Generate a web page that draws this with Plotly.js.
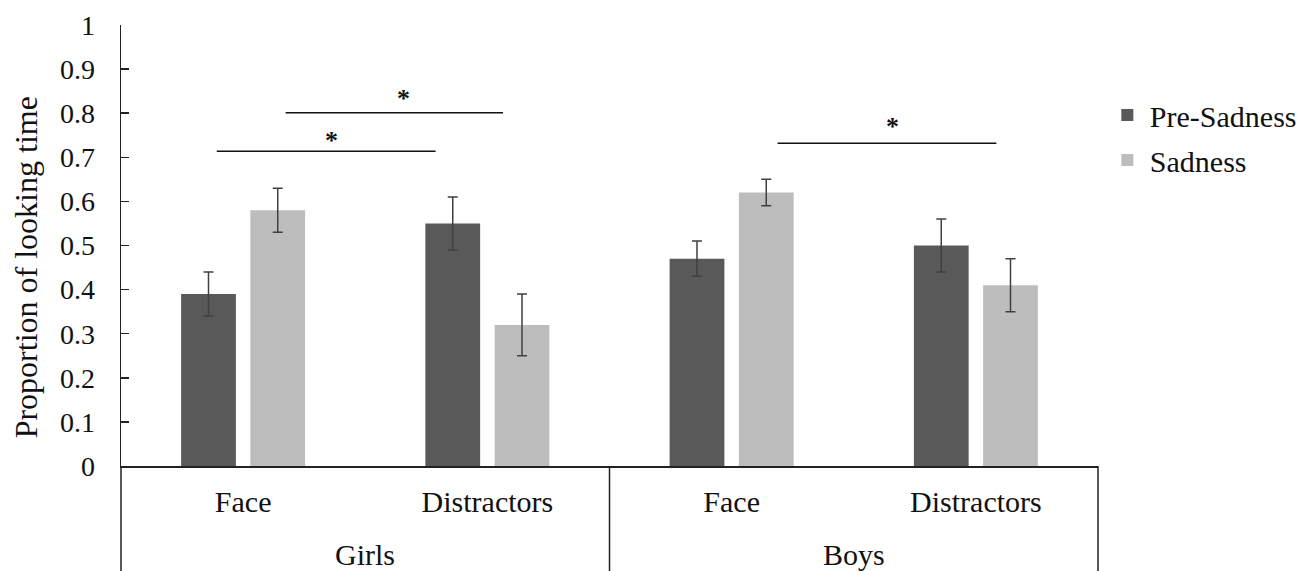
<!DOCTYPE html>
<html>
<head>
<meta charset="utf-8">
<script src="https://cdn.plot.ly/plotly-3.0.1.min.js"></script>
<style>html,body{margin:0;padding:0;background:#fff;}#chart{width:1314px;height:571px;}</style>
</head>
<body>
<div id="chart"></div>
<script>
// ---- data ----
var groups = ["Girls", "Girls", "Boys", "Boys"];
var conditions = ["Face", "Distractors", "Face", "Distractors"];
var groupLabels = ["Girls", "Boys"];
var preSadness = [0.39, 0.55, 0.47, 0.50];
var preSadnessErr = [0.05, 0.06, 0.04, 0.06];
var sadness = [0.58, 0.32, 0.62, 0.41];
var sadnessErr = [0.05, 0.07, 0.03, 0.06];
var yTicks = [0, 0.1, 0.2, 0.3, 0.4, 0.5, 0.6, 0.7, 0.8, 0.9, 1];
var yTickText = ["0", "0.1", "0.2", "0.3", "0.4", "0.5", "0.6", "0.7", "0.8", "0.9", "1"];
// significance brackets: [x0 (paper), x1 (paper), y (data)]
var sigLines = [[0.098, 0.322, 0.714], [0.1685, 0.391, 0.801], [0.672, 0.896, 0.732]];
// significance stars: [x (paper), y (data)]
var sigStars = [[0.2155, 0.714], [0.289, 0.809], [0.7896, 0.745]];

var FONT = "Liberation Serif, Times New Roman, serif";
var keys = groups.map(function (g, i) { return g + "|" + conditions[i]; });

var traces = [
  {
    type: "bar", name: "Pre-Sadness", legendgroup: "a",
    x: keys, y: preSadness,
    marker: {color: "#595959"},
    error_y: {type: "data", array: preSadnessErr, visible: true, color: "#404040", thickness: 1.5, width: 5}
  },
  {
    type: "bar", name: "Sadness", legendgroup: "b",
    x: keys, y: sadness,
    marker: {color: "#bdbdbd"},
    error_y: {type: "data", array: sadnessErr, visible: true, color: "#404040", thickness: 1.5, width: 5}
  }
];

var shapes = sigLines.map(function (s) {
  return {type: "line", xref: "paper", yref: "y", x0: s[0], x1: s[1], y0: s[2], y1: s[2],
          line: {color: "#111", width: 1.5}};
});
// category-group dividers below the axis
[0, 0.5, 1].forEach(function (x) {
  shapes.push({type: "line", xref: "paper", yref: "paper", x0: x, x1: x, y0: 0, y1: -0.24,
               line: {color: "#222", width: 1.5}});
});

var annotations = sigStars.map(function (s) {
  return {xref: "paper", yref: "y", x: s[0], y: s[1], text: "<b>*</b>", showarrow: false,
          xanchor: "center", yanchor: "bottom", yshift: -6,
          font: {family: FONT, size: 26, color: "#111"}};
});
groupLabels.forEach(function (g, i) {
  annotations.push({xref: "paper", yref: "paper", x: 0.25 + 0.5 * i, y: -0.2018, text: g, showarrow: false,
                    xanchor: "center", yanchor: "middle", font: {family: FONT, size: 30, color: "#111"}});
});
annotations.push({xref: "paper", yref: "paper", x: -0.097, y: 0.451, text: "Proportion of looking time",
                  textangle: -90, showarrow: false, xanchor: "center", yanchor: "middle",
                  font: {family: FONT, size: 32, color: "#111"}});

var layout = {
  width: 1314, height: 571,
  margin: {l: 121, r: 214, t: 25, b: 105},
  paper_bgcolor: "#ffffff", plot_bgcolor: "#ffffff",
  font: {family: FONT, size: 28, color: "#111"},
  barmode: "group", bargap: 0.433, bargroupgap: 0.209,
  showlegend: true,
  legend: {x: 1.007, xanchor: "left", y: 0.855, yanchor: "top", tracegroupgap: 3, itemwidth: 35,
           font: {family: FONT, size: 30, color: "#111"}, bgcolor: "rgba(0,0,0,0)"},
  xaxis: {
    type: "category", tickvals: keys, ticktext: conditions,
    showline: true, linecolor: "#222", linewidth: 1.5,
    showgrid: false, zeroline: false, ticks: "", ticklabelstandoff: 8,
    tickfont: {family: FONT, size: 30, color: "#111"}
  },
  yaxis: {
    range: [0, 1], tickvals: yTicks, ticktext: yTickText,
    showline: true, linecolor: "#222", linewidth: 1.5,
    ticks: "inside", ticklen: 8, tickcolor: "#222", tickwidth: 1.5,
    ticklabelstandoff: 19,
    showgrid: false, zeroline: false,
    tickfont: {family: FONT, size: 28, color: "#111"}
  },
  shapes: shapes,
  annotations: annotations
};

Plotly.newPlot("chart", traces, layout, {displayModeBar: false, staticPlot: true});
</script>
</body>
</html>
